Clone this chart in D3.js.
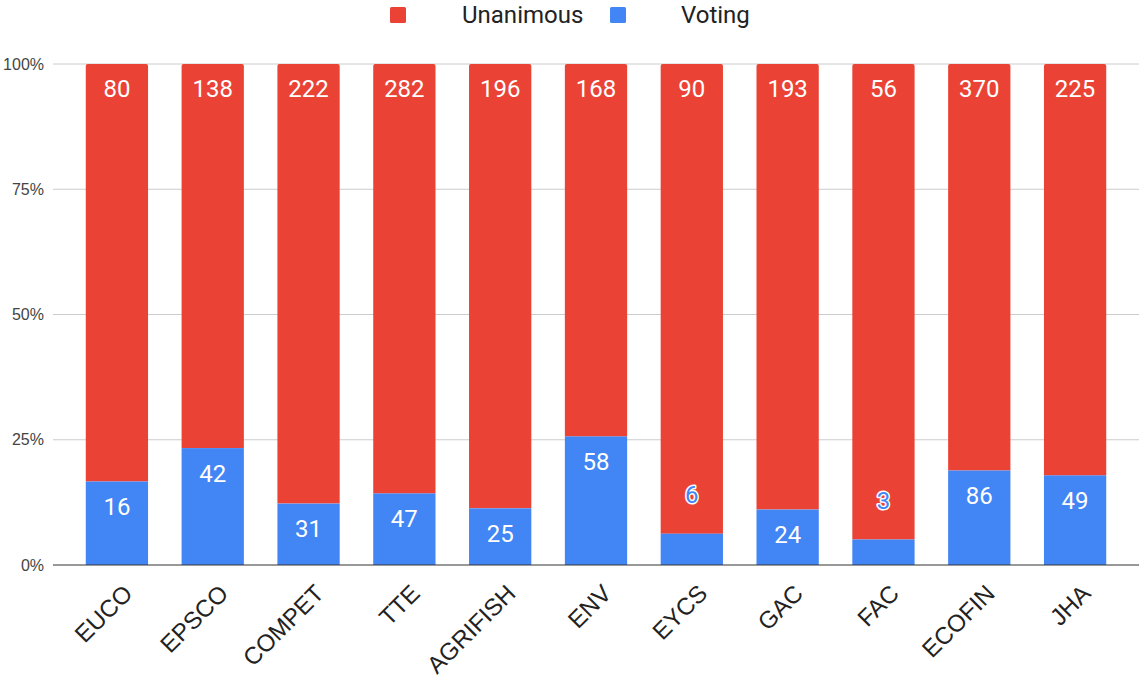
<!DOCTYPE html>
<html>
<head>
<meta charset="utf-8">
<script src="https://cdn.jsdelivr.net/npm/d3@7"></script>
<style>
  body { margin: 0; background: #fff; }
  svg { display: block; font-family: "Liberation Sans", Arial, sans-serif; }
</style>
</head>
<body>
<svg id="chart" width="1139" height="684"></svg>
<script>
// Council configurations and counts of decisions by type
const categories = ["EUCO", "EPSCO", "COMPET", "TTE", "AGRIFISH", "ENV", "EYCS", "GAC", "FAC", "ECOFIN", "JHA"];
const unanimous = [80, 138, 222, 282, 196, 168, 90, 193, 56, 370, 225];
const voting = [16, 42, 31, 47, 25, 58, 6, 24, 3, 86, 49];
const yTicks = [0, 0.25, 0.5, 0.75, 1];
const seriesNames = ["Unanimous", "Voting"];
const colors = { Unanimous: "#ea4335", Voting: "#4285f4" };

const svg = d3.select("#chart");
const plotLeft = 53, plotRight = 1139, plotTop = 64, plotBottom = 565;
const labelFont = "Roboto, 'Liberation Sans', sans-serif";

const x = d3.scaleBand().domain(categories).range([69, 1123]).paddingInner(0.35).paddingOuter(0.175);
const y = d3.scaleLinear().domain([0, 1]).range([plotBottom, plotTop]);
const fmt = d3.format(".0%");

// Gridlines
svg.append("g").selectAll("line").data(yTicks.filter(d => d > 0)).join("line")
  .attr("x1", plotLeft).attr("x2", plotRight)
  .attr("y1", d => y(d)).attr("y2", d => y(d))
  .attr("stroke", "#cccccc").attr("stroke-width", 1);

// Y axis labels
const yAxis = d3.axisLeft(y).tickValues(yTicks).tickFormat(fmt).tickSize(0).tickPadding(9);
const yg = svg.append("g").attr("transform", `translate(${plotLeft},0)`).call(yAxis);
yg.select(".domain").remove();
yg.selectAll("text").attr("font-size", 16).attr("fill", "#444").attr("font-family", "Liberation Sans, Arial, sans-serif");

const rows = categories.map((c, i) => {
  const total = unanimous[i] + voting[i];
  return { c, u: unanimous[i], v: voting[i], vp: voting[i] / total };
});

// Stacked bars, top corners slightly rounded
function topRoundedRect(x0, y0, w, h, r) {
  return `M${x0},${y0 + h}V${y0 + r}Q${x0},${y0} ${x0 + r},${y0}H${x0 + w - r}Q${x0 + w},${y0} ${x0 + w},${y0 + r}V${y0 + h}Z`;
}
const bars = svg.append("g");
bars.selectAll("path.u").data(rows).join("path").attr("class", "u")
  .attr("d", d => topRoundedRect(x(d.c), y(1), x.bandwidth(), y(d.vp) - y(1), 2))
  .attr("fill", colors.Unanimous);
bars.selectAll("rect.v").data(rows).join("rect").attr("class", "v")
  .attr("x", d => x(d.c)).attr("width", x.bandwidth())
  .attr("y", d => y(d.vp)).attr("height", d => y(0) - y(d.vp))
  .attr("fill", colors.Voting);

// Baseline
svg.append("line").attr("x1", plotLeft).attr("x2", plotRight)
  .attr("y1", y(0)).attr("y2", y(0)).attr("stroke", "#333").attr("stroke-width", 1);

// Value labels
const labels = svg.append("g").attr("font-size", 24).attr("text-anchor", "middle")
  .attr("font-family", labelFont);
labels.selectAll("text.u").data(rows).join("text").attr("class", "u")
  .attr("x", d => x(d.c) + x.bandwidth() / 2).attr("y", y(1) + 25).attr("dy", "0.35em")
  .attr("fill", "#fff").text(d => d.u);
labels.selectAll("text.v").data(rows).join("text").attr("class", "v")
  .each(function(d) {
    const inside = y(0) - y(d.vp) > 40;
    const t = d3.select(this)
      .attr("x", x(d.c) + x.bandwidth() / 2)
      .attr("y", inside ? y(d.vp) + 25 : y(d.vp) - 39)
      .attr("dy", "0.35em").text(d.v);
    if (inside) t.attr("fill", "#fff");
    else t.attr("fill", colors.Voting).attr("stroke", "#fff").attr("stroke-width", 3)
      .attr("paint-order", "stroke").attr("stroke-linejoin", "round");
  });

// X axis labels, rotated
svg.append("g").selectAll("text").data(categories).join("text")
  .attr("transform", d => `translate(${x(d) + x.bandwidth() / 2 + 11},${plotBottom + 24}) rotate(-45)`)
  .attr("text-anchor", "end").attr("dy", "0.35em")
  .attr("font-size", 24).attr("fill", "#222").text(d => d);

// Legend
const legend = svg.append("g").attr("font-size", 24).attr("fill", "#222").attr("font-family", labelFont);
const legendItems = [
  { name: seriesNames[0], sx: 390, tx: 462 },
  { name: seriesNames[1], sx: 610, tx: 681 }
];
legendItems.forEach(it => {
  legend.append("rect").attr("x", it.sx).attr("y", 7).attr("width", 16).attr("height", 16)
    .attr("rx", 1.5).attr("fill", colors[it.name]);
  legend.append("text").attr("x", it.tx).attr("y", 15).attr("dy", "0.35em").text(it.name);
});
</script>
</body>
</html>
